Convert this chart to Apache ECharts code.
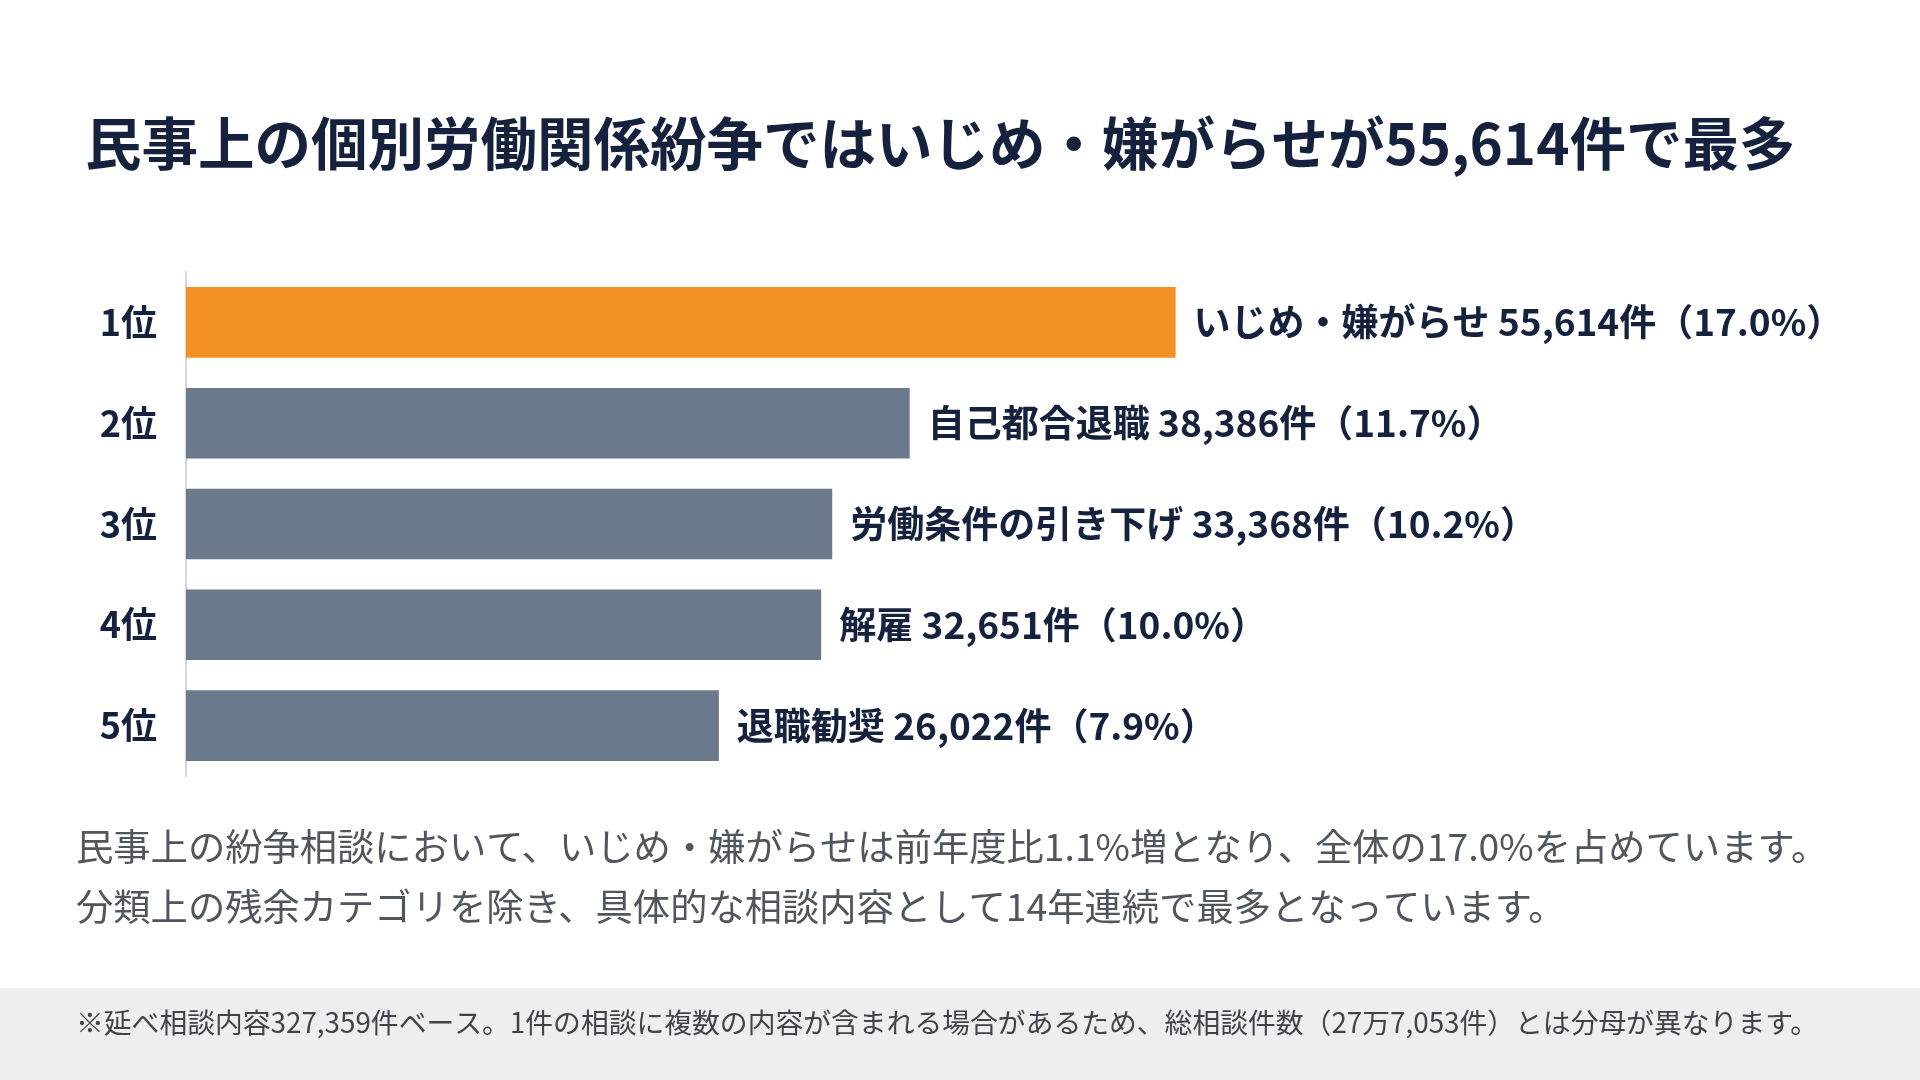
<!DOCTYPE html>
<html lang="ja">
<head>
<meta charset="utf-8">
<title>個別労働関係紛争 相談内容</title>
<script src="https://cdn.jsdelivr.net/npm/echarts@6/dist/echarts.min.js"></script>
<style>
  html, body { margin: 0; padding: 0; background: #ffffff; }
  #chart { width: 1920px; height: 1080px; }
</style>
</head>
<body>
<div id="chart"></div>
<script>
// 相談内容ランキング（民事上の個別労働紛争）
var ranks = ['1位', '2位', '3位', '4位', '5位'];
var names = ['いじめ・嫌がらせ', '自己都合退職', '労働条件の引き下げ', '解雇', '退職勧奨'];
var counts = [55614, 38386, 33368, 32651, 26022];
var shares = [17.0, 11.7, 10.2, 10.0, 7.9];

var titleText = '民事上の個別労働関係紛争ではいじめ・嫌がらせが55,614件で最多';
var bodyLines = [
  '民事上の紛争相談において、いじめ・嫌がらせは前年度比1.1%増となり、全体の17.0%を占めています。',
  '分類上の残余カテゴリを除き、具体的な相談内容として14年連続で最多となっています。'
];
var noteText = '※延べ相談内容327,359件ベース。1件の相談に複数の内容が含まれる場合があるため、総相談件数（27万7,053件）とは分母が異なります。';

var FONT = '"Noto Sans CJK JP", "Noto Sans", sans-serif';
var NAVY = '#16213d';
var ORANGE = '#f39024';
var SLATE = '#6a7a8c';
var AXIS_START = -8500;

var chart = echarts.init(document.getElementById('chart'));

var barData = counts.map(function (v, i) {
  return {
    value: v,
    itemStyle: { color: i === 0 ? ORANGE : SLATE }
  };
});

chart.setOption({
  backgroundColor: '#ffffff',
  textStyle: { fontFamily: FONT },
  title: {
    text: titleText,
    left: 80,
    top: 110,
    textStyle: {
      fontFamily: FONT,
      fontSize: 56.5,
      fontWeight: 'bold',
      color: NAVY,
      lineHeight: 58
    }
  },
  grid: {
    left: 186,
    top: 272,
    width: 1366,
    height: 504
  },
  xAxis: {
    type: 'value',
    min: AXIS_START,
    max: 80000,
    startValue: AXIS_START,
    show: false,
    splitLine: { show: false }
  },
  yAxis: {
    type: 'category',
    data: ranks,
    inverse: true,
    axisTick: { show: false },
    axisLine: { show: true, onZero: false, lineStyle: { color: '#d3d7dc', width: 2 } },
    axisLabel: {
      margin: 29,
      fontFamily: FONT,
      fontSize: 36,
      fontWeight: 'bold',
      color: NAVY
    }
  },
  series: [{
    type: 'bar',
    data: barData,
    startValue: AXIS_START,
    barWidth: '70%',
    silent: true,
    label: {
      show: true,
      position: 'right',
      distance: 18,
      fontFamily: FONT,
      fontSize: 37,
      fontWeight: 'bold',
      color: NAVY,
      formatter: function (p) {
        var i = p.dataIndex;
        return names[i] + ' ' + counts[i].toLocaleString('en-US') + '件（' + shares[i].toFixed(1) + '%）';
      }
    }
  }],
  graphic: [
    {
      type: 'text',
      left: 76,
      top: 828,
      style: {
        text: bodyLines[0],
        font: '37.3px ' + FONT,
        fill: '#50565e'
      }
    },
    {
      type: 'text',
      left: 76,
      top: 888,
      style: {
        text: bodyLines[1],
        font: '37.3px ' + FONT,
        fill: '#50565e'
      }
    },
    {
      type: 'rect',
      left: 0,
      top: 988,
      shape: { width: 1920, height: 92 },
      style: { fill: '#eceef0' }
    },
    {
      type: 'text',
      left: 76,
      top: 1009,
      style: {
        text: noteText,
        font: '27.8px ' + FONT,
        fill: '#3f444b'
      }
    }
  ]
});
</script>
</body>
</html>
